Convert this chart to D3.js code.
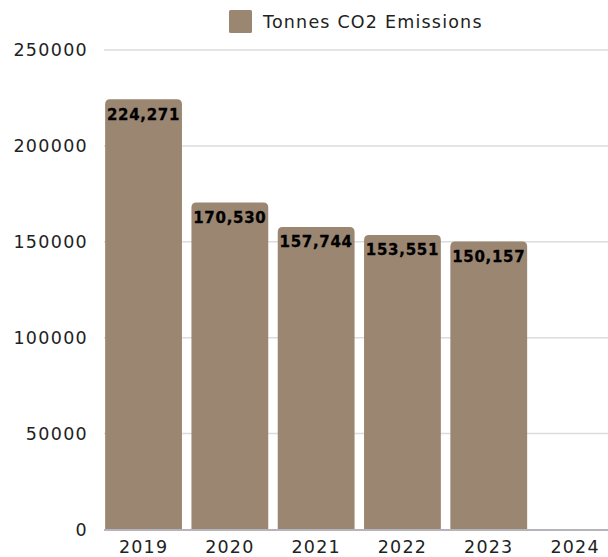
<!DOCTYPE html>
<html><head><meta charset="utf-8">
<script src="https://cdn.jsdelivr.net/npm/d3@7"></script>
<style>html,body{margin:0;padding:0;background:#fff;}svg{display:block;}</style>
</head><body>
<svg id="chart" width="608" height="557"></svg>
<script>
const years = ["2019","2020","2021","2022","2023","2024"];
const emissions = [224271, 170530, 157744, 153551, 150157, null];
const yTicks = [0, 50000, 100000, 150000, 200000, 250000];
const seriesName = "Tonnes CO2 Emissions";
const barColor = "#9b8672";

const svg = d3.select("#chart");
const plotLeft = 104, plotRight = 608, yTop = 50, yBottom = 529.5;
const font = "'DejaVu Sans', sans-serif";

const y = d3.scaleLinear().domain([0, 250000]).range([yBottom, yTop]);
const x = d3.scaleBand().domain(years).range([100.4, 618.2]).paddingInner(0.11).paddingOuter(0.055);

// gridlines
svg.append("g").selectAll("line").data(yTicks.filter(d => d > 0)).join("line")
  .attr("x1", plotLeft).attr("x2", plotRight)
  .attr("y1", d => y(d)).attr("y2", d => y(d))
  .attr("stroke", "#dcdcdc").attr("stroke-width", 1.5);

// y tick labels
svg.append("g").selectAll("text").data(yTicks).join("text")
  .attr("x", 88).attr("y", d => y(d)).attr("dy", "0.36em")
  .attr("text-anchor", "end").attr("font-family", font).attr("font-size", 17.5)
  .attr("letter-spacing", 1.3).attr("fill", "#222")
  .text(d => d);

// bars with rounded top corners
const r = 5;
const data = years.map((yr, i) => ({yr, v: emissions[i]})).filter(d => d.v != null);
svg.append("g").selectAll("path").data(data).join("path")
  .attr("fill", barColor)
  .attr("d", d => {
    const x0 = x(d.yr), w = x.bandwidth(), y0 = y(d.v), y1 = y(0);
    return `M${x0},${y1}V${y0 + r}Q${x0},${y0} ${x0 + r},${y0}H${x0 + w - r}Q${x0 + w},${y0} ${x0 + w},${y0 + r}V${y1}Z`;
  });

// baseline
svg.append("line").attr("x1", plotLeft).attr("x2", plotRight)
  .attr("y1", y(0) + 0.5).attr("y2", y(0) + 0.5)
  .attr("stroke", "#b4b4ba").attr("stroke-width", 2);

// value labels
const fmt = d3.format(",");
svg.append("g").selectAll("text").data(data).join("text")
  .attr("x", d => x(d.yr) + x.bandwidth() / 2).attr("y", d => y(d.v) + 20.5)
  .attr("text-anchor", "middle").attr("font-family", font).attr("font-weight", "bold")
  .attr("font-size", 15).attr("letter-spacing", 0.7).attr("fill", "#000")
  .attr("stroke", "#000").attr("stroke-width", 0.3)
  .text(d => fmt(d.v));

// x labels
svg.append("g").selectAll("text").data(years).join("text")
  .attr("x", d => x(d) + x.bandwidth() / 2).attr("y", 553)
  .attr("text-anchor", "middle").attr("font-family", font).attr("font-size", 17.5)
  .attr("letter-spacing", 1.2).attr("fill", "#222")
  .text(d => d);

// legend
const lg = svg.append("g");
lg.append("rect").attr("x", 229).attr("y", 10).attr("width", 23).attr("height", 23).attr("rx", 1.5).attr("fill", barColor);
lg.append("text").attr("x", 263).attr("y", 22).attr("dy", "0.36em")
  .attr("font-family", font).attr("font-size", 17.5).attr("letter-spacing", 1.2).attr("fill", "#222")
  .text(seriesName);
</script>
</body></html>
